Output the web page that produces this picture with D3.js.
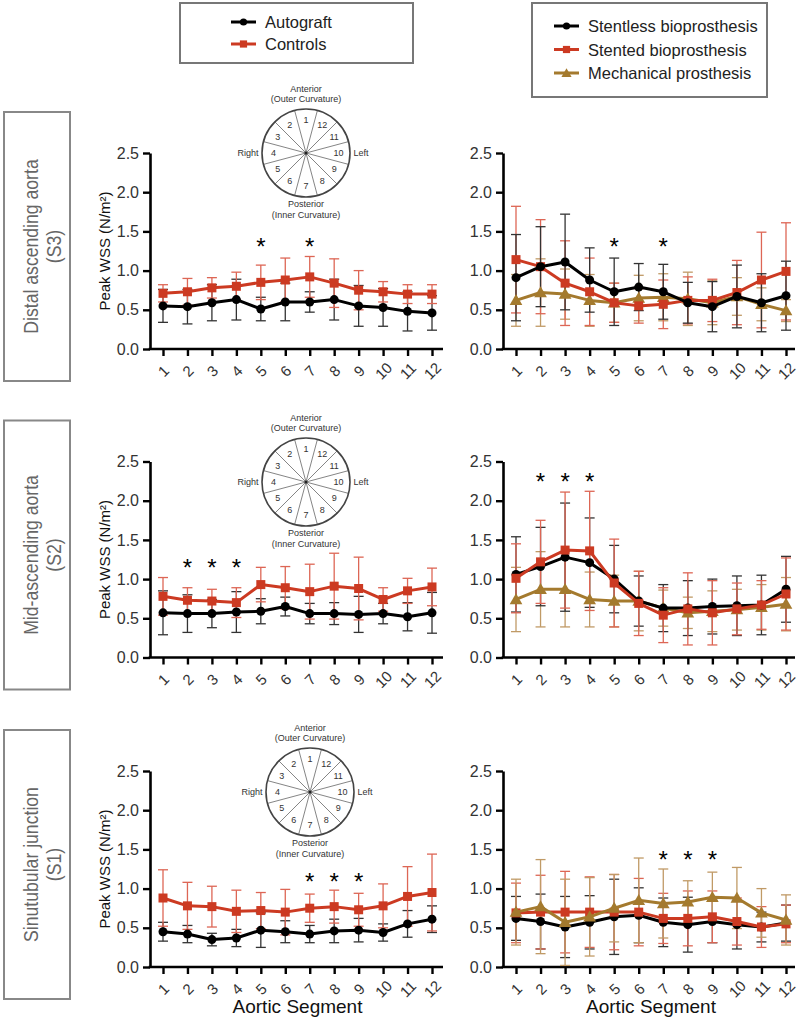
<!DOCTYPE html>
<html><head><meta charset="utf-8">
<script src="https://cdn.jsdelivr.net/npm/d3@7"></script>
<style>body{margin:0;background:#fff} svg{display:block} text{font-family:"Liberation Sans",Arial,Helvetica,sans-serif}</style>
</head><body><svg id="c" width="800" height="1020"></svg>
<script>
// ---------- DATA ----------
const segments = [1,2,3,4,5,6,7,8,9,10,11,12];
const yTicks = [0, 0.5, 1.0, 1.5, 2.0, 2.5];

// S3 – Distal ascending aorta
const autoS3   = [0.55,0.54,0.59,0.63,0.51,0.60,0.60,0.63,0.55,0.53,0.48,0.46];
const autoS3sd = [0.21,0.22,0.23,0.26,0.15,0.24,0.13,0.26,0.26,0.24,0.25,0.22];
const ctrlS3   = [0.71,0.73,0.78,0.80,0.85,0.88,0.92,0.84,0.75,0.73,0.70,0.70];
const ctrlS3sd = [0.11,0.17,0.13,0.18,0.22,0.28,0.26,0.31,0.25,0.13,0.12,0.12];
const stentlessS3   = [0.91,1.05,1.11,0.88,0.73,0.79,0.73,0.59,0.54,0.67,0.59,0.68];
const stentlessS3sd = [0.55,0.51,0.61,0.41,0.43,0.30,0.35,0.26,0.32,0.40,0.37,0.44];
const stentedS3   = [1.14,1.05,0.84,0.73,0.59,0.55,0.57,0.62,0.62,0.72,0.88,0.99];
const stentedS3sd = [0.68,0.60,0.54,0.43,0.25,0.22,0.31,0.30,0.27,0.41,0.61,0.62];
const mechS3   = [0.62,0.72,0.70,0.62,0.59,0.65,0.66,0.64,0.59,0.67,0.57,0.49];
const mechS3sd = [0.33,0.43,0.32,0.33,0.25,0.29,0.30,0.34,0.28,0.24,0.21,0.14];

// S2 – Mid-ascending aorta
const autoS2   = [0.57,0.56,0.56,0.58,0.59,0.65,0.56,0.56,0.55,0.56,0.52,0.57];
const autoS2sd = [0.28,0.24,0.18,0.26,0.16,0.12,0.13,0.14,0.23,0.13,0.18,0.26];
const ctrlS2   = [0.78,0.73,0.72,0.70,0.93,0.89,0.84,0.91,0.88,0.74,0.85,0.90];
const ctrlS2sd = [0.24,0.16,0.15,0.19,0.22,0.27,0.35,0.42,0.40,0.15,0.16,0.24];
const stentlessS2   = [1.06,1.16,1.28,1.21,1.00,0.72,0.63,0.63,0.65,0.66,0.67,0.87];
const stentlessS2sd = [0.48,0.50,0.69,0.57,0.43,0.32,0.30,0.35,0.35,0.38,0.38,0.42];
const stentedS2   = [1.01,1.22,1.37,1.36,0.95,0.69,0.54,0.62,0.57,0.62,0.67,0.81];
const stentedS2sd = [0.44,0.53,0.74,0.76,0.56,0.41,0.35,0.46,0.41,0.33,0.31,0.46];
const mechS2   = [0.74,0.87,0.87,0.74,0.72,0.72,0.63,0.57,0.59,0.61,0.64,0.68];
const mechS2sd = [0.41,0.48,0.48,0.35,0.33,0.38,0.23,0.20,0.26,0.26,0.29,0.34];

// S1 – Sinutubular junction
const autoS1   = [0.45,0.42,0.35,0.37,0.47,0.45,0.42,0.46,0.47,0.44,0.55,0.61];
const autoS1sd = [0.12,0.11,0.08,0.11,0.22,0.14,0.11,0.15,0.15,0.11,0.17,0.17];
const ctrlS1   = [0.88,0.78,0.77,0.71,0.72,0.70,0.75,0.77,0.73,0.78,0.90,0.95];
const ctrlS1sd = [0.36,0.30,0.26,0.27,0.23,0.29,0.18,0.21,0.21,0.28,0.38,0.49];
const stentlessS1   = [0.62,0.58,0.51,0.57,0.64,0.66,0.57,0.54,0.58,0.54,0.51,0.56];
const stentlessS1sd = [0.28,0.35,0.39,0.34,0.48,0.35,0.31,0.35,0.27,0.31,0.19,0.23];
const stentedS1   = [0.69,0.70,0.70,0.70,0.70,0.70,0.62,0.62,0.64,0.58,0.51,0.55];
const stentedS1sd = [0.38,0.47,0.52,0.45,0.48,0.43,0.32,0.35,0.33,0.30,0.26,0.24];
const mechS1   = [0.70,0.77,0.57,0.64,0.75,0.85,0.81,0.83,0.89,0.88,0.69,0.60];
const mechS1sd = [0.42,0.60,0.55,0.50,0.43,0.54,0.44,0.27,0.32,0.39,0.31,0.32];

// significance markers (segments) and the height (N/m²) they sit at
const sigS3 = [5,7];   const sigS3Left = 1.37; const sigS3Right = 1.37;
const sigS2 = [2,3,4]; const sigS2Left = 1.21; const sigS2Right = 2.30;
const sigS1 = [7,8,9]; const sigS1Left = 1.15; const sigS1Right = 1.43;

const rowLabels = [["Distal ascending aorta","(S3)"],["Mid-ascending aorta","(S2)"],["Sinutubular junction","(S1)"]];
const legendLeft  = ["Autograft","Controls"];
const legendRight = ["Stentless bioprosthesis","Stented bioprosthesis","Mechanical prosthesis"];
const circleNumbers = [1,2,3,4,5,6,7,8,9,10,11,12];

// ---------- STYLE ----------
const C = {
  black:{line:"#000", err:"#333", shape:"circle"},
  red:  {line:"#cc3a22", err:"#dd6655", shape:"square"},
  tan:  {line:"#a47a2e", err:"#c09a66", shape:"triangle"}
};

const svg = d3.select("#c");

// ---------- LEGENDS ----------
function marker(g, style, x, y, sc){
  sc = sc || 1;
  if(style.shape==="circle") g.append("circle").attr("cx",x).attr("cy",y).attr("r",4.5*sc).attr("fill",style.line);
  else if(style.shape==="square") g.append("rect").attr("x",x-4.5*sc).attr("y",y-4.5*sc).attr("width",9*sc).attr("height",9*sc).attr("fill",style.line);
  else g.append("path").attr("d",d3.symbol(d3.symbolTriangle, 70*sc*sc)()).attr("transform",`translate(${x},${y+1})`).attr("fill",style.line);
}
function legend(x,y,w,h,items,styles,lx,ty,dy){
  const g = svg.append("g");
  g.append("rect").attr("x",x).attr("y",y).attr("width",w).attr("height",h).attr("fill","#fff").attr("stroke","#777").attr("stroke-width",2);
  items.forEach((t,i)=>{
    const yy = ty + i*dy;
    g.append("line").attr("x1",lx).attr("x2",lx+25).attr("y1",yy).attr("y2",yy).attr("stroke",styles[i].line).attr("stroke-width",3);
    marker(g, styles[i], lx+12.5, yy, 0.8);
    g.append("text").attr("x",lx+34).attr("y",yy+6).attr("font-size",16.5).attr("fill","#222").text(t);
  });
}
legend(180,3,233,60,legendLeft,[C.black,C.red],231,22,22);
legend(532,3,235,94,legendRight,[C.black,C.red,C.tan],554,26,23.5);

// ---------- ROW LABELS ----------
const rowZero = [349, 657.5, 967];
rowLabels.forEach((lab,i)=>{
  const z = rowZero[i];
  const top = z-237, bot = z+32;
  const g = svg.append("g");
  g.append("rect").attr("x",4).attr("y",top).attr("width",66).attr("height",bot-top).attr("fill","none").attr("stroke","#888").attr("stroke-width",2);
  const cy = (top+bot)/2;
  g.append("text").attr("transform",`translate(38,${cy}) rotate(-90) scale(0.84,1)`).attr("text-anchor","middle")
    .attr("font-size",21).attr("fill","#666").text(lab[0]);
  g.append("text").attr("transform",`translate(61,${cy}) rotate(-90) scale(0.84,1)`).attr("text-anchor","middle")
    .attr("font-size",21).attr("fill","#666").text(lab[1]);
});

// ---------- ORIENTATION DIAGRAMS ----------
const circleCenters = [[306,153],[306,482],[310,792]];
circleCenters.forEach(([cx,cy])=>{
  const g = svg.append("g");
  const r = 44;
  const ang = d3.scaleLinear().domain([1,13]).range([0, 2*Math.PI]); // counter-clockwise from top
  circleNumbers.forEach(n=>{
    const a = ang(n) - Math.PI/12;
    g.append("line").attr("x1",cx).attr("y1",cy)
      .attr("x2",cx - r*Math.sin(a)).attr("y2",cy - r*Math.cos(a))
      .attr("stroke","#777").attr("stroke-width",0.9);
    const am = ang(n);
    g.append("text").attr("x",cx - r*0.74*Math.sin(am)).attr("y",cy - r*0.74*Math.cos(am)+3)
      .attr("text-anchor","middle").attr("font-size",9).attr("fill","#333").text(n);
  });
  g.append("circle").attr("cx",cx).attr("cy",cy).attr("r",r).attr("fill","none").attr("stroke","#444").attr("stroke-width",1.6);
  g.append("circle").attr("cx",cx).attr("cy",cy).attr("r",1.5).attr("fill","#222");
  const t = (x,y,s)=>g.append("text").attr("x",x).attr("y",y).attr("text-anchor","middle").attr("font-size",9).attr("fill","#333").text(s);
  t(cx, cy-61, "Anterior"); t(cx, cy-51, "(Outer Curvature)");
  t(cx, cy+54, "Posterior"); t(cx, cy+65, "(Inner Curvature)");
  t(cx-58, cy+3, "Right"); t(cx+55, cy+3, "Left");
});

// ---------- PANELS ----------
function panel(opts){
  const {axisX, axisEnd, xr, zero, series, sig, sigLevel, yTitle, xTitle} = opts;
  const g = svg.append("g");
  const x = d3.scalePoint().domain(segments).range(xr);
  const y = d3.scaleLinear().domain([0,2.5]).range([zero, zero-196]).clamp(true);

  // y axis
  const ya = g.append("g").attr("transform",`translate(${axisX},0)`)
    .call(d3.axisLeft(y).tickValues(yTicks).tickFormat(d3.format(".1f")).tickSize(7).tickSizeOuter(0).tickPadding(4));
  ya.select(".domain").attr("stroke","#000").attr("stroke-width",2.6);
  ya.selectAll(".tick line").attr("stroke","#000").attr("stroke-width",2.4);
  ya.selectAll(".tick text").attr("font-size",16).attr("fill","#333").attr("font-family","'Liberation Sans',Arial,sans-serif");

  // x axis
  const xa = g.append("g").attr("transform",`translate(0,${zero})`)
    .call(d3.axisBottom(x).tickSize(7).tickSizeOuter(0));
  xa.select(".domain").remove();
  xa.append("line").attr("x1",axisX-1.3).attr("x2",axisEnd).attr("stroke","#000").attr("stroke-width",2.6);
  xa.selectAll(".tick line").attr("stroke","#000").attr("stroke-width",2.4);
  xa.selectAll(".tick text").attr("font-size",15).attr("fill","#333").attr("font-family","'Liberation Sans',Arial,sans-serif")
    .attr("y",0).attr("dy","0.35em").attr("text-anchor","middle").attr("transform","translate(0,22) rotate(-45)");

  if(yTitle){
    g.append("text").attr("transform",`translate(${axisX-40},${zero-98}) rotate(-90)`).attr("text-anchor","middle")
      .attr("font-size",15).attr("fill","#111").text("Peak WSS (N/m²)");
  }
  if(xTitle){
    g.append("text").attr("x",(xr[0]+xr[1])/2).attr("y",zero+46).attr("text-anchor","middle")
      .attr("font-size",19).attr("fill","#111").text("Aortic Segment");
  }

  // error bars
  series.forEach(s=>{
    const eg = g.append("g").attr("stroke",s.style.err).attr("stroke-width",1.3).attr("fill","none");
    segments.forEach((seg,i)=>{
      const xc = x(seg), hi = y(s.v[i]+s.sd[i]), lo = y(Math.max(0,s.v[i]-s.sd[i]));
      eg.append("line").attr("x1",xc).attr("x2",xc).attr("y1",hi).attr("y2",lo);
      eg.append("line").attr("x1",xc-5).attr("x2",xc+5).attr("y1",hi).attr("y2",hi);
      eg.append("line").attr("x1",xc-5).attr("x2",xc+5).attr("y1",lo).attr("y2",lo);
    });
  });
  // lines + markers
  series.forEach(s=>{
    const line = d3.line().x((d,i)=>x(segments[i])).y(d=>y(d));
    g.append("path").attr("d",line(s.v)).attr("fill","none").attr("stroke",s.style.line).attr("stroke-width",3).attr("stroke-linejoin","round");
    segments.forEach((seg,i)=>marker(g, s.style, x(seg), y(s.v[i]), 1));
  });
  // significance
  sig.forEach(seg=>{
    g.append("text").attr("x",x(seg)).attr("y",y(sigLevel)+13).attr("text-anchor","middle")
      .attr("font-size",24).attr("fill","#000").text("*");
  });
}

const L = {axisX:150, axisEnd:443, xr:[163,432]};
const R = {axisX:503, axisEnd:795, xr:[516,786]};
const rowsLeft = [
  {zero:rowZero[0], series:[{v:autoS3,sd:autoS3sd,style:C.black},{v:ctrlS3,sd:ctrlS3sd,style:C.red}], sig:sigS3, sigLevel:sigS3Left},
  {zero:rowZero[1], series:[{v:autoS2,sd:autoS2sd,style:C.black},{v:ctrlS2,sd:ctrlS2sd,style:C.red}], sig:sigS2, sigLevel:sigS2Left},
  {zero:rowZero[2], series:[{v:autoS1,sd:autoS1sd,style:C.black},{v:ctrlS1,sd:ctrlS1sd,style:C.red}], sig:sigS1, sigLevel:sigS1Left}
];
const rowsRight = [
  {zero:rowZero[0], series:[{v:mechS3,sd:mechS3sd,style:C.tan},{v:stentedS3,sd:stentedS3sd,style:C.red},{v:stentlessS3,sd:stentlessS3sd,style:C.black}], sig:sigS3, sigLevel:sigS3Right},
  {zero:rowZero[1], series:[{v:mechS2,sd:mechS2sd,style:C.tan},{v:stentlessS2,sd:stentlessS2sd,style:C.black},{v:stentedS2,sd:stentedS2sd,style:C.red}], sig:sigS2, sigLevel:sigS2Right},
  {zero:rowZero[2], series:[{v:stentlessS1,sd:stentlessS1sd,style:C.black},{v:stentedS1,sd:stentedS1sd,style:C.red},{v:mechS1,sd:mechS1sd,style:C.tan}], sig:sigS1, sigLevel:sigS1Right}
];
rowsLeft.forEach((r,i)=>panel(Object.assign({}, L, r, {yTitle:true, xTitle:i===2})));
rowsRight.forEach((r,i)=>panel(Object.assign({}, R, r, {yTitle:false, xTitle:i===2})));
</script></body></html>
